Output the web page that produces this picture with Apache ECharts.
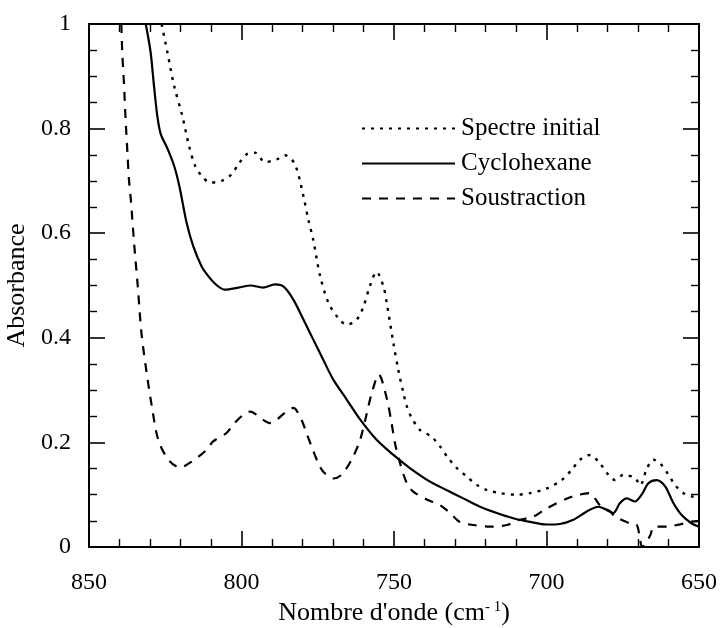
<!DOCTYPE html>
<html>
<head>
<meta charset="utf-8">
<script src="https://cdn.jsdelivr.net/npm/echarts@6/dist/echarts.min.js"></script>
<style>
html,body{margin:0;padding:0;background:#fff;}
#c{width:722px;height:628px;}
</style>
</head>
<body>
<div id="c"></div>
<script>
// Wavenumbers (cm-1) and absorbance
var initialWn  = [826.2,824.3,822.1,819.4,817.2,815.2,813,810.3,806.5,803.2,801,798.3,795.6,792.3,788.5,785.7,782.5,779.7,778.1,776.5,774.3,771.5,768.3,765.5,762.2,760,757.9,755.7,753.5,752.4,750.2,748.6,746.9,745.8,744.2,741.5,737.7,734.9,732.2,729.4,726.2,722.9,719.6,715.2,709.8,705.4,699.9,695,691.7,689,685.7,682.5,679.7,677.5,674.8,671,669.3,667.2,665,662.8,660,657.9,655.1,651.9,650];
var initialAbs = [1.0,0.946,0.882,0.824,0.767,0.729,0.709,0.697,0.700,0.713,0.732,0.751,0.754,0.736,0.741,0.749,0.732,0.671,0.626,0.588,0.520,0.467,0.438,0.425,0.435,0.460,0.499,0.526,0.499,0.467,0.390,0.339,0.294,0.269,0.247,0.224,0.211,0.192,0.170,0.151,0.135,0.119,0.109,0.103,0.100,0.103,0.112,0.128,0.148,0.167,0.176,0.160,0.138,0.128,0.138,0.132,0.118,0.148,0.167,0.160,0.138,0.119,0.103,0.096,0.093];

var cycloWn  = [831.4,829.8,828.7,827.6,826.5,824.3,822.1,820.3,818,815.8,813.1,810.9,808,805.4,801,797,793,789,786,783,779.7,776.5,773.2,769.9,765.5,761,755.7,750.2,744.8,738.2,732.8,727.3,721.8,716.3,710.9,705.4,699.9,695.6,691.2,686.8,683,680.3,678.1,675.9,673.7,671,668.8,666.6,663.9,661.1,658.4,655.7,652.4,650];
var cycloAbs = [1.0,0.946,0.882,0.824,0.790,0.762,0.729,0.688,0.620,0.575,0.537,0.518,0.500,0.492,0.496,0.500,0.496,0.502,0.497,0.473,0.435,0.397,0.358,0.320,0.282,0.243,0.205,0.176,0.151,0.125,0.109,0.093,0.077,0.065,0.055,0.048,0.043,0.044,0.052,0.068,0.077,0.071,0.065,0.084,0.093,0.087,0.100,0.122,0.128,0.116,0.084,0.061,0.045,0.039];

var soustWn  = [839.4,839.1,838.5,838,837.4,836.9,836.3,835.2,834,832.8,831.1,829.4,827.3,824,820.2,816.4,811.4,809.3,804.9,802.7,799.4,797.2,792.9,790.7,785.2,783,780.3,778.7,777,774.8,773.2,769.9,767.2,763.9,761.1,758.9,757.3,755,752.4,750.8,749.7,748,745.8,743.7,739.3,734.9,731.6,728.4,724,718.5,713,708.7,704.3,699.9,691.7,685.7,684.1,682.5,679.2,677.5,672.6,670.4,669.3,668.6,666,664.8,660.4,657.3,652.8,650];
var soustAbs = [1.0,0.946,0.882,0.818,0.754,0.703,0.665,0.58,0.498,0.409,0.333,0.269,0.205,0.167,0.152,0.163,0.186,0.202,0.218,0.234,0.253,0.259,0.243,0.237,0.259,0.266,0.243,0.218,0.192,0.160,0.144,0.131,0.138,0.167,0.205,0.256,0.294,0.330,0.285,0.237,0.199,0.160,0.122,0.106,0.091,0.080,0.065,0.048,0.042,0.039,0.042,0.052,0.058,0.074,0.096,0.103,0.093,0.080,0.068,0.058,0.045,0.042,0.013,0.0,0.022,0.039,0.039,0.042,0.048,0.050];

var seriesNames = ['Spectre initial', 'Cyclohexane', 'Soustraction'];
var xTickValues = [850, 800, 750, 700, 650];
var yTickValues = [0, 0.2, 0.4, 0.6, 0.8, 1];

function zip(a, b) { return a.map(function (v, i) { return [v, b[i]]; }); }

var FONT = 'Liberation Serif';
var chart = echarts.init(document.getElementById('c'), null, {renderer: 'canvas'});

var axisLine = {show: true, onZero: false, lineStyle: {color: '#000', width: 2}};
var tickInside = {show: true, inside: true, length: 16, lineStyle: {color: '#000', width: 1.6}};
var minorInside = {show: true, splitNumber: 5, length: 8, lineStyle: {color: '#000', width: 1.4}};
var minorInsideY = {show: true, splitNumber: 4, length: 8, lineStyle: {color: '#000', width: 1.4}};

var option = {
  animation: false,
  backgroundColor: '#fff',
  grid: {left: 89, right: 23, top: 24, bottom: 81, containLabel: false, outerBoundsMode: 'none'},
  legend: {
    data: seriesNames,
    orient: 'vertical',
    left: 356,
    top: 111,
    align: 'left',
    itemWidth: 93,
    itemHeight: 14,
    itemGap: 10,
    itemStyle: {opacity: 0, color: 'transparent', borderWidth: 0},
    textStyle: {fontFamily: FONT, fontSize: 25, color: '#000', padding: [0, 0, 0, 1]}
  },
  xAxis: [{
    type: 'value', inverse: true, min: 650, max: 850, interval: 50,
    position: 'bottom',
    name: "Nombre d'onde (cm{sup|- 1})",
    nameLocation: 'middle', nameGap: 43,
    nameTextStyle: {fontFamily: FONT, fontSize: 26, color: '#000',
      rich: {sup: {fontFamily: FONT, fontSize: 15, color: '#000', verticalAlign: 'top', padding: [0, 0, 12, 0]}}},
    axisLine: axisLine, axisTick: tickInside, minorTick: minorInside,
    splitLine: {show: false}, minorSplitLine: {show: false},
    axisLabel: {fontFamily: FONT, fontSize: 24, color: '#000', margin: 24,
      formatter: function (v) { return xTickValues.indexOf(v) >= 0 ? String(v) : ''; }}
  }, {
    type: 'value', inverse: true, min: 650, max: 850, interval: 50,
    position: 'top',
    axisLine: axisLine, axisTick: tickInside, minorTick: minorInside,
    splitLine: {show: false}, axisLabel: {show: false}
  }],
  yAxis: [{
    type: 'value', min: 0, max: 1, interval: 0.2,
    position: 'left',
    name: 'Absorbance', nameLocation: 'middle', nameGap: 54, nameRotate: 90,
    nameTextStyle: {fontFamily: FONT, fontSize: 26, color: '#000'},
    axisLine: axisLine, axisTick: tickInside, minorTick: minorInsideY,
    splitLine: {show: false},
    axisLabel: {fontFamily: FONT, fontSize: 24, color: '#000', margin: 18,
      formatter: function (v) {
        var r = Math.round(v * 10) / 10;
        return yTickValues.indexOf(r) >= 0 ? String(r) : '';
      }}
  }, {
    type: 'value', min: 0, max: 1, interval: 0.2,
    position: 'right',
    axisLine: axisLine, axisTick: tickInside, minorTick: minorInsideY,
    splitLine: {show: false}, axisLabel: {show: false}
  }],
  series: [{
    name: seriesNames[0], type: 'line', data: zip(initialWn, initialAbs),
    showSymbol: false, symbol: 'none', smooth: 0.3, clip: true,
    lineStyle: {color: '#000', width: 2.4, type: [3, 6], cap: 'butt'},
    itemStyle: {color: '#000'}
  }, {
    name: seriesNames[1], type: 'line', data: zip(cycloWn, cycloAbs),
    showSymbol: false, symbol: 'none', smooth: 0.3, clip: true,
    lineStyle: {color: '#000', width: 2.2, type: 'solid'},
    itemStyle: {color: '#000'}
  }, {
    name: seriesNames[2], type: 'line', data: zip(soustWn, soustAbs),
    showSymbol: false, symbol: 'none', smooth: 0.3, clip: true,
    lineStyle: {color: '#000', width: 2.2, type: [9, 8]},
    itemStyle: {color: '#000'}
  }]
};
chart.setOption(option);
</script>
</body>
</html>
